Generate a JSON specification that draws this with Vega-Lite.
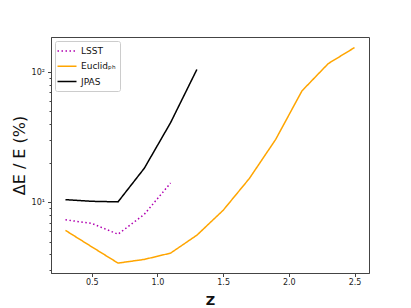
{
  "$schema": "https://vega.github.io/schema/vega-lite/v6.json",
  "autosize": {"type": "none"},
  "padding": {"left": 51, "top": 37, "right": 42, "bottom": 35},
  "width": 318,
  "height": 236,
  "background": "white",
  "config": {
    "font": "DejaVu Sans",
    "view": {"stroke": "#444", "strokeWidth": 1},
    "axis": {"grid": false, "domainColor": "#444", "tickColor": "#444", "labelColor": "#222", "labelFont": "DejaVu Sans", "labelFontSize": 8, "titleFont": "DejaVu Sans", "titleColor": "#111"}
  },
  "data": {"values": [
    {"survey": "LSST", "z": 0.3, "dE": 7.35},
    {"survey": "LSST", "z": 0.5, "dE": 6.9},
    {"survey": "LSST", "z": 0.7, "dE": 5.7},
    {"survey": "LSST", "z": 0.9, "dE": 8.1},
    {"survey": "LSST", "z": 1.1, "dE": 14.1},
    {"survey": "Euclidₚₕ", "z": 0.3, "dE": 6.1},
    {"survey": "Euclidₚₕ", "z": 0.5, "dE": 4.56},
    {"survey": "Euclidₚₕ", "z": 0.7, "dE": 3.42},
    {"survey": "Euclidₚₕ", "z": 0.9, "dE": 3.65},
    {"survey": "Euclidₚₕ", "z": 1.1, "dE": 4.08},
    {"survey": "Euclidₚₕ", "z": 1.3, "dE": 5.6},
    {"survey": "Euclidₚₕ", "z": 1.5, "dE": 8.7},
    {"survey": "Euclidₚₕ", "z": 1.7, "dE": 15.3},
    {"survey": "Euclidₚₕ", "z": 1.9, "dE": 30.5},
    {"survey": "Euclidₚₕ", "z": 2.1, "dE": 72},
    {"survey": "Euclidₚₕ", "z": 2.3, "dE": 116.6},
    {"survey": "Euclidₚₕ", "z": 2.5, "dE": 154.8},
    {"survey": "JPAS", "z": 0.3, "dE": 10.5},
    {"survey": "JPAS", "z": 0.5, "dE": 10.2},
    {"survey": "JPAS", "z": 0.7, "dE": 10.1},
    {"survey": "JPAS", "z": 0.9, "dE": 18.3},
    {"survey": "JPAS", "z": 1.1, "dE": 41},
    {"survey": "JPAS", "z": 1.3, "dE": 105}
  ]},
  "mark": {"type": "line", "strokeWidth": 1.5, "clip": true},
  "encoding": {
    "x": {
      "field": "z", "type": "quantitative",
      "scale": {"domain": [0.19, 2.61], "nice": false, "zero": false},
      "axis": {"values": [0.5, 1.0, 1.5, 2.0, 2.5], "format": ".1f", "tickSize": 3.5, "labelPadding": 2, "title": "Z", "titleFontSize": 13, "titleFontWeight": "bold", "titlePadding": 8}
    },
    "y": {
      "field": "dE", "type": "quantitative",
      "scale": {"type": "log", "domain": [2.87, 186.6], "nice": false},
      "axis": {
        "values": [3, 4, 5, 6, 7, 8, 9, 10, 20, 30, 40, 50, 60, 70, 80, 90, 100],
        "labelExpr": "datum.value == 10 ? '10¹' : (datum.value == 100 ? '10²' : '')",
        "tickSize": {"condition": {"test": "datum.value == 10 || datum.value == 100", "value": 3.5}, "value": 2},
        "labelPadding": 3,
        "title": "ΔE / E (%)", "titleFontSize": 16, "titleFontWeight": "normal", "titlePadding": 4
      }
    },
    "color": {
      "field": "survey", "type": "nominal",
      "scale": {"domain": ["LSST", "Euclidₚₕ", "JPAS"], "range": ["#b000b0", "#ffa500", "#000000"]},
      "legend": {
        "title": null, "orient": "top-left", "offset": 4,
        "symbolType": "M-1.9,0H1.9", "symbolSize": 100, "symbolStrokeWidth": 1.5,
        "labelFontSize": 9, "labelColor": "#111", "labelOffset": 8,
        "rowPadding": 4.3, "padding": 4, "symbolOffset": 2,
        "fillColor": "rgba(255,255,255,0.8)", "strokeColor": "#ccc", "cornerRadius": 2
      }
    },
    "strokeDash": {
      "field": "survey", "type": "nominal",
      "scale": {"domain": ["LSST", "Euclidₚₕ", "JPAS"], "range": [[1.5, 2.5], [1, 0], [1, 0]]},
      "legend": null
    }
  }
}
